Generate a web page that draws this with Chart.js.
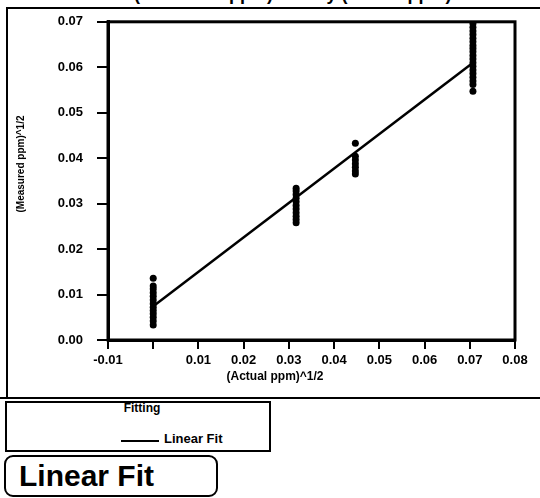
<!DOCTYPE html>
<html><head><meta charset="utf-8">
<script src="https://cdn.jsdelivr.net/npm/chart.js@4/dist/chart.umd.min.js"></script>
<style>
html,body{margin:0;padding:0;background:#fff;}
#wrap{position:relative;width:540px;height:498px;overflow:hidden;font-family:"Liberation Sans",Arial,sans-serif;color:#000;background:#fff;}
#c{position:absolute;left:0;top:0;}
#topclip{position:absolute;left:0;top:0;width:540px;height:6px;overflow:hidden;}
#topclip span{position:absolute;left:4px;top:-16px;font-size:18px;font-weight:bold;white-space:nowrap;line-height:20px;}
.hl{position:absolute;background:#000;}
#ytitle{position:absolute;left:-44px;top:158px;width:130px;height:12px;line-height:12px;text-align:center;font-size:10px;font-weight:bold;transform:rotate(-90deg);white-space:nowrap;}
#xtitle{position:absolute;left:175px;top:370px;width:200px;height:12px;line-height:12px;text-align:center;font-size:12px;font-weight:bold;white-space:nowrap;}
#legend{position:absolute;left:5px;top:401px;width:262px;height:47px;border:2px solid #000;overflow:hidden;}
#legend .hdr{position:absolute;left:0;width:262px;top:-2px;text-align:center;font-size:12px;font-weight:bold;line-height:14px;padding-left:8px;box-sizing:border-box;}
#legend .sw{position:absolute;left:114px;top:37px;width:38px;height:2px;background:#000;}
#legend .lt{position:absolute;left:157px;top:28px;font-size:13px;font-weight:bold;line-height:16px;white-space:nowrap;}
#fitbox{position:absolute;left:4px;top:455px;width:197px;height:38px;border:2px solid #000;border-radius:9px;font-size:30px;font-weight:bold;line-height:38px;padding-left:13px;box-sizing:content-box;white-space:nowrap;}
</style></head>
<body><div id="wrap">
<div id="topclip"><span>Bivariate Fit of (Measured ppm)^1/2 By (Actual ppm)^1/2</span></div>
<div class="hl" style="left:6px;top:7px;width:534px;height:2px;"></div>
<div class="hl" style="left:6px;top:7px;width:2px;height:392px;"></div>
<div class="hl" style="left:0px;top:397px;width:540px;height:2px;"></div>
<canvas id="c" width="540" height="400"></canvas>
<div id="ytitle">(Measured ppm)^1/2</div>
<div id="xtitle">(Actual ppm)^1/2</div>
<div id="legend"><div class="hdr">Fitting</div><div class="sw"></div><div class="lt">Linear Fit</div></div>
<div id="fitbox">Linear Fit</div>
</div>
<script>
// Actual ppm^1/2 levels
const levelsX = [0, 0.0316, 0.0447, 0.0707];
// Measured ppm^1/2 readings at each level
const measuredAt0 = [0.0033, 0.0042, 0.0050, 0.0058, 0.0065, 0.0072, 0.0080, 0.0088, 0.0096, 0.0104, 0.0112, 0.0119, 0.0136];
const measuredAt1 = [0.0258, 0.0265, 0.0272, 0.0280, 0.0288, 0.0296, 0.0304, 0.0312, 0.0320, 0.0328, 0.0334];
const measuredAt2 = [0.0365, 0.0372, 0.0380, 0.0388, 0.0396, 0.0404, 0.0433];
const measuredAt3 = [0.0547, 0.0562, 0.0570, 0.0578, 0.0586, 0.0594, 0.0602, 0.0610, 0.0618, 0.0626, 0.0634, 0.0641, 0.0648, 0.0656, 0.0664, 0.0672, 0.0680, 0.0688, 0.0696];
// Linear fit end points
const fitX = [0, 0.0707];
const fitY = [0.0074, 0.0610];
// Tick values
const xTickValues = [-0.01, 0, 0.01, 0.02, 0.03, 0.04, 0.05, 0.06, 0.07, 0.08];
const yTickValues = [0, 0.01, 0.02, 0.03, 0.04, 0.05, 0.06, 0.07];

const groups = [measuredAt0, measuredAt1, measuredAt2, measuredAt3];
const scatterPts = [];
groups.forEach((g, i) => g.forEach(v => scatterPts.push({x: levelsX[i], y: v})));
const fitPts = fitX.map((x, i) => ({x: x, y: fitY[i]}));

const framePlugin = {
  id: 'frame',
  afterDatasetsDraw(chart) {
    const {ctx, chartArea: a} = chart;
    ctx.save();
    ctx.strokeStyle = '#000';
    ctx.lineWidth = 3;
    ctx.strokeRect(a.left, a.top, a.right - a.left, a.bottom - a.top);
    ctx.restore();
  }
};

const tickFont = {family: '"Liberation Sans", Arial, sans-serif', size: 13, weight: 'bold'};

new Chart(document.getElementById('c'), {
  type: 'scatter',
  data: {
    datasets: [
      {
        label: 'Measured',
        data: scatterPts,
        backgroundColor: '#000',
        borderColor: '#000',
        pointRadius: 3.5,
        pointBorderWidth: 0,
        order: 2
      },
      {
        type: 'line',
        label: 'Linear Fit',
        data: fitPts,
        borderColor: '#000',
        borderWidth: 2.5,
        pointRadius: 0,
        fill: false,
        order: 1
      }
    ]
  },
  options: {
    responsive: false,
    animation: false,
    devicePixelRatio: 1,
    layout: {padding: {left: 0, top: 20, right: 25, bottom: 0}},
    plugins: {legend: {display: false}, tooltip: {enabled: false}},
    scales: {
      x: {
        type: 'linear',
        min: -0.01,
        max: 0.08,
        afterBuildTicks: s => { s.ticks = xTickValues.map(v => ({value: v})); },
        afterFit: s => { s.height = 60; },
        border: {display: true, color: '#000', width: 3},
        grid: {display: true, drawOnChartArea: false, drawTicks: true, tickLength: 9, color: '#000', lineWidth: 2},
        ticks: {
          color: '#000', font: tickFont, padding: 4, maxRotation: 0, autoSkip: false,
          callback: v => Math.abs(v) < 1e-9 ? '' : v.toFixed(2)
        }
      },
      y: {
        type: 'linear',
        min: 0,
        max: 0.07,
        afterBuildTicks: s => { s.ticks = yTickValues.map(v => ({value: v})); },
        afterFit: s => { s.width = 108; },
        border: {display: true, color: '#000', width: 3},
        grid: {display: true, drawOnChartArea: false, drawTicks: true, tickLength: 11, color: '#000', lineWidth: 2},
        ticks: {
          color: '#000', font: tickFont, padding: 14, autoSkip: false,
          callback: v => v.toFixed(2)
        }
      }
    }
  },
  plugins: [framePlugin]
});
</script>
</body></html>
